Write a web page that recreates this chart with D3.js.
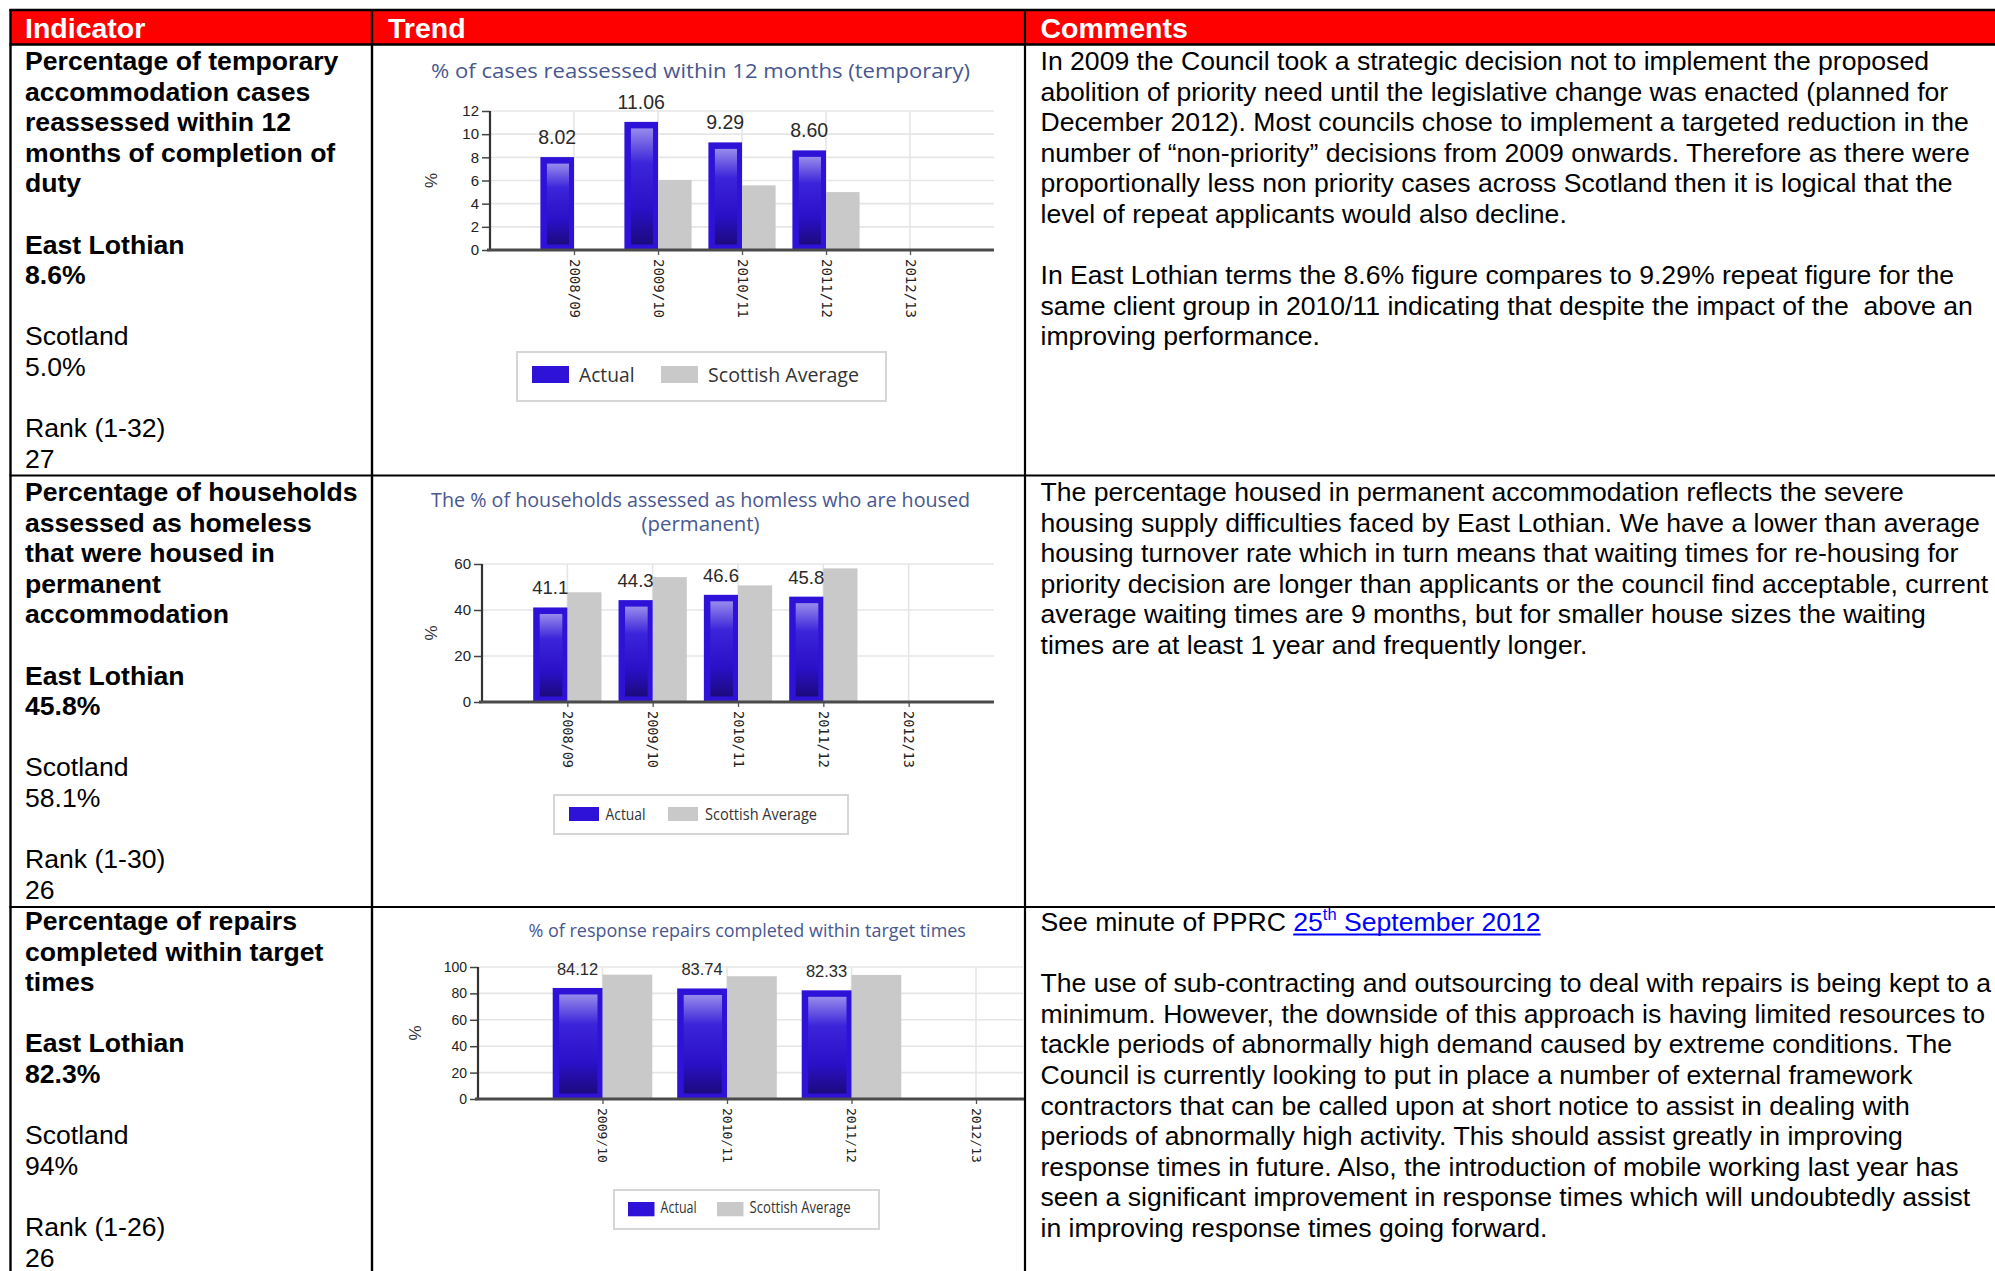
<!DOCTYPE html>
<html><head><meta charset="utf-8">
<script src="https://cdn.jsdelivr.net/npm/d3@7"></script>
<style>
html,body{margin:0;padding:0;background:#fff;}
svg{display:block;}
</style></head><body>
<svg id="root" width="1995" height="1271"></svg>
<script>
// ================= DATA =================
const seriesNames = ["Actual", "Scottish Average"];

const chart1Title = ["% of cases reassessed within 12 months (temporary)"];
const chart1Categories = ["2008/09", "2009/10", "2010/11", "2011/12", "2012/13"];
const chart1Actual = [8.02, 11.06, 9.29, 8.60, null];
const chart1Scottish = [null, 6.04, 5.58, 5.0, null];
const chart1Ticks = [0, 2, 4, 6, 8, 10, 12];

const chart2Title = ["The % of households assessed as homless who are housed", "(permanent)"];
const chart2Categories = ["2008/09", "2009/10", "2010/11", "2011/12", "2012/13"];
const chart2Actual = [41.1, 44.3, 46.6, 45.8, null];
const chart2Scottish = [47.7, 54.3, 50.7, 58.1, null];
const chart2Ticks = [0, 20, 40, 60];

const chart3Title = ["% of response repairs completed within target times"];
const chart3Categories = ["2009/10", "2010/11", "2011/12", "2012/13"];
const chart3Actual = [84.12, 83.74, 82.33, null];
const chart3Scottish = [94.2, 93.0, 94.0, null];
const chart3Ticks = [0, 20, 40, 60, 80, 100];

const headers = ["Indicator", "Trend", "Comments"];

const indicator1 = [
  ["Percentage of temporary", true], ["accommodation cases", true], ["reassessed within 12", true],
  ["months of completion of", true], ["duty", true], ["", false],
  ["East Lothian", true], ["8.6%", true], ["", false],
  ["Scotland", false], ["5.0%", false], ["", false],
  ["Rank (1-32)", false], ["27", false]];
const indicator2 = [
  ["Percentage of households", true], ["assessed as homeless", true], ["that were housed in", true],
  ["permanent", true], ["accommodation", true], ["", false],
  ["East Lothian", true], ["45.8%", true], ["", false],
  ["Scotland", false], ["58.1%", false], ["", false],
  ["Rank (1-30)", false], ["26", false]];
const indicator3 = [
  ["Percentage of repairs", true], ["completed within target", true], ["times", true], ["", false],
  ["East Lothian", true], ["82.3%", true], ["", false],
  ["Scotland", false], ["94%", false], ["", false],
  ["Rank (1-26)", false], ["26", false]];

const comments1 = [
  "In 2009 the Council took a strategic decision not to implement the proposed",
  "abolition of priority need until the legislative change was enacted (planned for",
  "December 2012). Most councils chose to implement a targeted reduction in the",
  "number of \u201cnon-priority\u201d decisions from 2009 onwards. Therefore as there were",
  "proportionally less non priority cases across Scotland then it is logical that the",
  "level of repeat applicants would also decline.",
  "",
  "In East Lothian terms the 8.6% figure compares to 9.29% repeat figure for the",
  "same client group in 2010/11 indicating that despite the impact of the  above an",
  "improving performance."];
const comments2 = [
  "The percentage housed in permanent accommodation reflects the severe",
  "housing supply difficulties faced by East Lothian. We have a lower than average",
  "housing turnover rate which in turn means that waiting times for re-housing for",
  "priority decision are longer than applicants or the council find acceptable, current",
  "average waiting times are 9 months, but for smaller house sizes the waiting",
  "times are at least 1 year and frequently longer."];
const comments3Link = [["See minute of PPRC ", "plain"], ["25", "link"], ["th", "sup"], [" September 2012", "link"]];
const comments3 = [
  null,
  "",
  "The use of sub-contracting and outsourcing to deal with repairs is being kept to a",
  "minimum. However, the downside of this approach is having limited resources to",
  "tackle periods of abnormally high demand caused by extreme conditions. The",
  "Council is currently looking to put in place a number of external framework",
  "contractors that can be called upon at short notice to assist in dealing with",
  "periods of abnormally high activity. This should assist greatly in improving",
  "response times in future. Also, the introduction of mobile working last year has",
  "seen a significant improvement in response times which will undoubtedly assist",
  "in improving response times going forward."];

// ================= DRAWING =================
const DOC_FONT = "'Liberation Sans', Arial, sans-serif";
const CH_FONT = "'Open Sans', 'Noto Sans', sans-serif";
const svg = d3.select("#root");
const defs = svg.append("defs");
const grad = defs.append("linearGradient").attr("id", "barGrad")
  .attr("x1", 0).attr("y1", 0).attr("x2", 0).attr("y2", 1);
[[0, "#978beb"], [0.3, "#3c24da"], [0.7, "#2a10c6"], [1, "#1c0a7e"]]
  .forEach(([o, c]) => grad.append("stop").attr("offset", o).attr("stop-color", c));

// ----- table -----
const T = svg.append("g");
T.append("rect").attr("x", 10).attr("y", 10).attr("width", 1985).attr("height", 34).attr("fill", "#ff0000");
const headerX = [25, 388, 1040.5];
headers.forEach((h, i) => T.append("text").attr("x", headerX[i]).attr("y", 38)
  .attr("font-family", DOC_FONT).attr("font-weight", "bold").attr("font-size", 28.5)
  .attr("fill", "#fff").text(h));

const LH = 30.6, FS = 26.6;
function drawLines(lines, x, y0) {
  lines.forEach((l, i) => {
    const txt = Array.isArray(l) ? l[0] : l;
    if (!txt) return;
    T.append("text").attr("x", x).attr("y", y0 + i * LH)
      .attr("font-family", DOC_FONT).attr("font-size", FS)
      .attr("font-weight", Array.isArray(l) && l[1] ? "bold" : "normal")
      .attr("fill", "#000").style("white-space", "pre").text(txt);
  });
}
drawLines(indicator1, 25, 70);
drawLines(indicator2, 25, 501);
drawLines(indicator3, 25, 930);
drawLines(comments1, 1040.5, 70);
drawLines(comments2, 1040.5, 501);
drawLines(comments3, 1040.5, 931);

// link line
const linkText = T.append("text").attr("x", 1040.5).attr("y", 931)
  .attr("font-family", DOC_FONT).attr("font-size", FS).style("white-space", "pre");
comments3Link.forEach(([t, kind]) => {
  const ts = linkText.append("tspan").text(t);
  if (kind === "plain") ts.attr("fill", "#000");
  else {
    ts.attr("fill", "#0000ff");
    if (kind === "sup") ts.attr("font-size", FS * 0.62).attr("dy", -11);
    if (kind === "link" && t.startsWith(" ")) ts.attr("dy", 11);
  }
});
{
  const tsp = linkText.selectAll("tspan").nodes();
  const startX = 1040.5 + tsp[0].getComputedTextLength();
  const endX = 1040.5 + linkText.node().getComputedTextLength();
  T.append("line").attr("x1", startX).attr("x2", endX).attr("y1", 934.5).attr("y2", 934.5)
    .attr("stroke", "#0000ff").attr("stroke-width", 2);
}

function hline(x1, x2, y, w) { T.append("line").attr("x1", x1).attr("x2", x2).attr("y1", y).attr("y2", y).attr("stroke", "#000").attr("stroke-width", w); }
function vline(x, y1, y2, w) { T.append("line").attr("x1", x).attr("x2", x).attr("y1", y1).attr("y2", y2).attr("stroke", "#000").attr("stroke-width", w); }
hline(9.5, 1995, 10, 2.5);
hline(9.5, 1995, 44.5, 2.5);
vline(10.5, 9, 1271, 2.4);
vline(372, 9, 1271, 2.4);
vline(1025, 9, 1271, 2.2);
hline(9.5, 1995, 475.5, 2.2);
hline(9.5, 1995, 907, 2.2);

// ----- charts -----
function drawChart(cfg) {
  const clipId = "clip" + cfg.id;
  defs.append("clipPath").attr("id", clipId).append("rect")
    .attr("x", 374).attr("y", cfg.yTop - 200).attr("width", 1024 - 374).attr("height", 500);
  const G = svg.append("g").attr("clip-path", `url(#${clipId})`);

  const x = d3.scalePoint().domain(cfg.cats).range([cfg.x0, cfg.x1]).padding(1);
  const y = d3.scaleLinear().domain([0, d3.max(cfg.ticks)]).range([cfg.yBase, cfg.yTop]);
  const w = x.step() * 0.4;

  // title
  cfg.title.forEach((t, i) => G.append("text").attr("x", cfg.titleX).attr("y", cfg.titleY[i])
    .attr("text-anchor", "middle").attr("font-family", CH_FONT).attr("font-size", cfg.titleSize)
    .attr("fill", "#48578f").attr("textLength", cfg.titleLen[i]).attr("lengthAdjust", "spacingAndGlyphs").text(t));

  // grid
  G.append("g").selectAll("line").data(cfg.ticks).join("line")
    .attr("x1", cfg.x0).attr("x2", cfg.x1).attr("y1", d => y(d)).attr("y2", d => y(d))
    .attr("stroke", "#e6e6e6").attr("stroke-width", 1.6);
  G.append("g").selectAll("line").data(cfg.cats).join("line")
    .attr("x1", d => x(d)).attr("x2", d => x(d)).attr("y1", cfg.yTop).attr("y2", cfg.yBase)
    .attr("stroke", "#e6e6e6").attr("stroke-width", 1.6);

  const idx = d3.range(cfg.cats.length);
  // scottish bars
  G.append("g").selectAll("rect").data(idx.filter(i => cfg.scottish[i] != null)).join("rect")
    .attr("x", i => x(cfg.cats[i])).attr("width", w)
    .attr("y", i => y(cfg.scottish[i])).attr("height", i => cfg.yBase - y(cfg.scottish[i]))
    .attr("fill", "#c9c9c9");
  // actual bars
  const act = idx.filter(i => cfg.actual[i] != null);
  const ab = G.append("g").selectAll("g").data(act).join("g");
  ab.append("rect").attr("x", i => x(cfg.cats[i]) - w).attr("width", w)
    .attr("y", i => y(cfg.actual[i])).attr("height", i => cfg.yBase - y(cfg.actual[i]))
    .attr("fill", "#2e12d8");
  ab.append("rect").attr("x", i => x(cfg.cats[i]) - w + 6.5).attr("width", w - 11.5)
    .attr("y", i => y(cfg.actual[i]) + 6.5).attr("height", i => cfg.yBase - y(cfg.actual[i]) - 12)
    .attr("fill", "url(#barGrad)");
  // value labels
  G.append("g").selectAll("text").data(act).join("text")
    .attr("x", i => x(cfg.cats[i]) - w / 2).attr("y", i => y(cfg.actual[i]) - 13)
    .attr("text-anchor", "middle").attr("font-family", DOC_FONT).attr("font-size", cfg.labelSize)
    .attr("fill", "#2a2a2a").text(i => d3.format(cfg.fmt)(cfg.actual[i]));

  // y axis
  const ya = G.append("g").attr("transform", `translate(${cfg.x0},0)`)
    .call(d3.axisLeft(y).tickValues(cfg.ticks).tickSize(8).tickPadding(3).tickFormat(d3.format("d")));
  ya.select(".domain").remove();
  ya.selectAll(".tick line").attr("stroke", "#444").attr("stroke-width", 1.5);
  ya.selectAll(".tick text").attr("font-family", DOC_FONT).attr("font-size", cfg.yTickSize).attr("fill", "#222");
  G.append("line").attr("x1", cfg.x0).attr("x2", cfg.x0).attr("y1", cfg.yTop).attr("y2", cfg.yBase)
    .attr("stroke", "#333").attr("stroke-width", 2.2);

  // x axis
  const xa = G.append("g").attr("transform", `translate(0,${cfg.yBase})`)
    .call(d3.axisBottom(x).tickSize(5).tickPadding(0));
  xa.select(".domain").remove();
  xa.selectAll(".tick line").attr("stroke", "#555").attr("stroke-width", 1.3);
  xa.selectAll(".tick text").attr("font-family", "'DejaVu Sans Mono', 'Liberation Mono', monospace")
    .attr("font-size", cfg.xLabelSize).attr("fill", "#222")
    .attr("text-anchor", "start").attr("dy", "0.35em")
    .attr("transform", "translate(0,9) rotate(90)").attr("y", 0).attr("x", 0);
  G.append("line").attr("x1", cfg.x0 - 3).attr("x2", cfg.x1).attr("y1", cfg.yBase).attr("y2", cfg.yBase)
    .attr("stroke", "#4a4a4a").attr("stroke-width", 3);

  // y axis title
  G.append("text").attr("transform", `translate(${cfg.pctX},${(cfg.yTop + cfg.yBase) / 2}) rotate(-90)`)
    .attr("text-anchor", "middle").attr("dy", "0.35em").attr("font-family", DOC_FONT)
    .attr("font-size", 17).attr("fill", "#333").text("%");

  // legend
  const L = cfg.legend;
  G.append("rect").attr("x", L.x).attr("y", L.y).attr("width", L.w).attr("height", L.h)
    .attr("fill", "#fff").attr("stroke", "#d6d6d6").attr("stroke-width", 2);
  const colors = ["#2e12d8", "#c9c9c9"];
  seriesNames.forEach((s, i) => {
    G.append("rect").attr("x", L.sw[i]).attr("y", L.swY).attr("width", L.swW).attr("height", L.swH).attr("fill", colors[i]);
    G.append("text").attr("x", L.tx[i]).attr("y", L.base).attr("font-family", CH_FONT)
      .attr("font-size", L.fs).attr("fill", "#333").attr("textLength", L.len[i])
      .attr("lengthAdjust", "spacingAndGlyphs").text(s);
  });
}

drawChart({
  id: 1, cats: chart1Categories, actual: chart1Actual, scottish: chart1Scottish, ticks: chart1Ticks,
  title: chart1Title, titleX: 700.6, titleY: [78], titleLen: [539], titleSize: 20,
  x0: 490, x1: 994, yTop: 111, yBase: 250, fmt: ".2f", labelSize: 19.5, yTickSize: 15, xLabelSize: 14, pctX: 431,
  legend: { x: 517, y: 352, w: 369, h: 49, sw: [532, 661], tx: [579, 708], swY: 366, swW: 37, swH: 17, base: 382, len: [55.5, 151], fs: 20 }
});
drawChart({
  id: 2, cats: chart2Categories, actual: chart2Actual, scottish: chart2Scottish, ticks: chart2Ticks,
  title: chart2Title, titleX: 700.6, titleY: [507, 531], titleLen: [539, 118], titleSize: 19.5,
  x0: 482, x1: 994, yTop: 564, yBase: 702, fmt: ".1f", labelSize: 18.5, yTickSize: 15, xLabelSize: 13.5, pctX: 431,
  legend: { x: 554, y: 795, w: 294, h: 39, sw: [569, 668], tx: [605.5, 705], swY: 807, swW: 30, swH: 14, base: 820, len: [40, 112], fs: 17 }
});
drawChart({
  id: 3, cats: chart3Categories, actual: chart3Actual, scottish: chart3Scottish, ticks: chart3Ticks,
  title: chart3Title, titleX: 747.2, titleY: [937], titleLen: [437.5], titleSize: 19,
  x0: 478, x1: 1100.5, yTop: 967, yBase: 1099, fmt: ".2f", labelSize: 16.5, yTickSize: 14, xLabelSize: 13, pctX: 415,
  legend: { x: 614, y: 1190, w: 265, h: 39, sw: [628, 717], tx: [660.6, 749.6], swY: 1202, swW: 26.5, swH: 14.3, base: 1213, len: [36, 101], fs: 16 }
});
</script>
</body></html>
